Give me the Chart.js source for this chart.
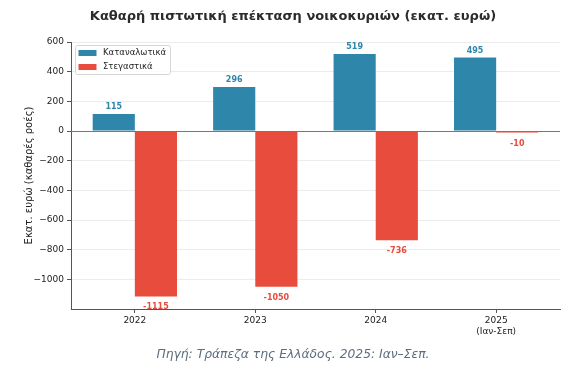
<!DOCTYPE html>
<html><head><meta charset="utf-8">
<script src="https://cdn.jsdelivr.net/npm/chart.js@4.4.1/dist/chart.umd.min.js"></script>
<style>html,body{margin:0;padding:0;background:#fff}#wrap{width:587px;height:372px}</style>
</head><body><div id="wrap"><canvas id="c" width="587" height="372"></canvas></div>
<script>
const categories = ['2022', '2023', '2024', '2025'];
const tickLabels = [['2022'], ['2023'], ['2024'], ['2025', '(Ιαν-Σεπ)']];
const consumerValues = [115, 296, 519, 495];
const housingValues = [-1115, -1050, -736, -10];
const seriesNames = ['Καταναλωτικά', 'Στεγαστικά'];
const yTicks = [-1000, -800, -600, -400, -200, 0, 200, 400, 600];
const titleText = 'Καθαρή πιστωτική επέκταση νοικοκυριών (εκατ. ευρώ)';
const yTitle = 'Εκατ. ευρώ (καθαρές ροές)';
const sourceText = 'Πηγή: Τράπεζα της Ελλάδος. 2025: Ιαν–Σεπ.';

const BLUE = '#2E86AB', RED = '#E74C3C';
const FONT = '"DejaVu Sans", sans-serif';

const zeroLine = {
  id: 'zeroLine',
  beforeDatasetsDraw(chart) {
    const ctx = chart.ctx, ca = chart.chartArea;
    const y0 = Math.round(chart.scales.y.getPixelForValue(0));
    ctx.save();
    ctx.strokeStyle = '#777'; ctx.lineWidth = 1;
    ctx.beginPath(); ctx.moveTo(ca.left, y0 + 0.5); ctx.lineTo(ca.right, y0 + 0.5); ctx.stroke();
    ctx.restore();
  }
};

const extras = {
  id: 'extras',
  afterDatasetsDraw(chart) {
    const ctx = chart.ctx, ca = chart.chartArea;
    ctx.save();
    // bar labels
    ctx.font = 'bold 8px ' + FONT;
    ctx.textAlign = 'center';
    chart.data.datasets.forEach((ds, di) => {
      const meta = chart.getDatasetMeta(di);
      meta.data.forEach((el, i) => {
        const v = ds.data[i].y;
        ctx.fillStyle = ds.backgroundColor;
        if (v >= 0) { ctx.textBaseline = 'bottom'; ctx.fillText(String(v), el.x, el.y - 3); }
        else { ctx.textBaseline = 'top'; ctx.fillText(String(v), el.x, el.y + 7); }
      });
    });
    // legend
    const lx = 75, ly = 45, lw = 95, lh = 29;
    ctx.fillStyle = 'rgba(255,255,255,0.85)';
    ctx.strokeStyle = '#d6d6d6'; ctx.lineWidth = 1;
    ctx.beginPath();
    if (ctx.roundRect) ctx.roundRect(lx + 0.5, ly + 0.5, lw, lh, 2); else ctx.rect(lx + 0.5, ly + 0.5, lw, lh);
    ctx.fill(); ctx.stroke();
    ctx.font = '8.5px ' + FONT; ctx.textAlign = 'left'; ctx.textBaseline = 'middle';
    chart.data.datasets.forEach((ds, di) => {
      const cy = ly + 8 + di * 14;
      ctx.fillStyle = ds.backgroundColor;
      ctx.fillRect(lx + 3.5, cy - 3, 18, 6);
      ctx.fillStyle = '#222';
      ctx.fillText(ds.label, lx + 28, cy);
    });
    // title
    ctx.fillStyle = '#2b2b2b';
    ctx.font = 'bold 13px ' + FONT; ctx.textAlign = 'center'; ctx.textBaseline = 'middle';
    ctx.fillText(titleText, 293, 17);
    // y title
    ctx.save();
    ctx.translate(29, (ca.top + ca.bottom) / 2);
    ctx.rotate(-Math.PI / 2);
    ctx.font = '10px ' + FONT; ctx.fillStyle = '#222';
    ctx.fillText(yTitle, 0, 0);
    ctx.restore();
    // source
    ctx.font = 'italic 12.3px ' + FONT; ctx.fillStyle = '#5d6d7e';
    ctx.fillText(sourceText, 293, 355);
    ctx.restore();
  }
};

new Chart(document.getElementById('c'), {
  type: 'bar',
  data: {
    datasets: [
      { label: seriesNames[0], data: consumerValues.map((v, i) => ({ x: i, y: v })), backgroundColor: BLUE, borderWidth: 0, barPercentage: 1, categoryPercentage: 0.7, grouped: true },
      { label: seriesNames[1], data: housingValues.map((v, i) => ({ x: i, y: v })), backgroundColor: RED, borderWidth: 0, barPercentage: 1, categoryPercentage: 0.7, grouped: true }
    ]
  },
  options: {
    responsive: false, animation: false,
    layout: { padding: { left: 0, right: 27, top: 42, bottom: 0 } },
    plugins: { legend: { display: false }, tooltip: { enabled: false }, title: { display: false } },
    scales: {
      x: {
        type: 'linear', offset: false,
        min: -0.53, max: 3.53,
        afterBuildTicks(s) { s.ticks = categories.map((c, i) => ({ value: i })); },
        grid: { display: true, drawOnChartArea: false, offset: false, tickLength: 4, tickColor: '#555' },
        border: { display: true, color: '#555', width: 1 },
        ticks: { color: '#222', font: { family: FONT, size: 9 }, padding: 2, maxRotation: 0, autoSkip: false,
                 callback: (v) => tickLabels[Math.round(v)] },
        afterFit(s) { s.height = 63; }
      },
      y: {
        min: -1200, max: 600,
        afterBuildTicks(s) { s.ticks = yTicks.map(v => ({ value: v })); },
        grid: { color: '#ececec', tickLength: 4, tickColor: '#555' },
        border: { display: true, color: '#555', width: 1 },
        ticks: { color: '#222', font: { family: FONT, size: 9 }, padding: 3, callback: (v) => String(v).replace('-', '−') },
        afterFit(s) { s.width = 71; }
      }
    }
  },
  plugins: [zeroLine, extras]
});
</script>
</body></html>
